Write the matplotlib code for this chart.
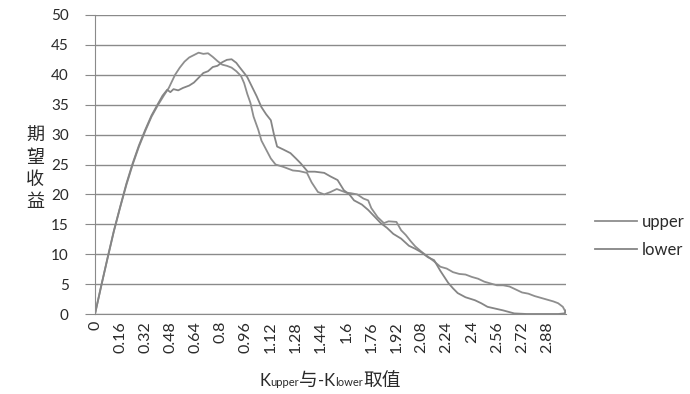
import numpy as np
import matplotlib
matplotlib.use("Agg")
import matplotlib.pyplot as plt
from matplotlib.offsetbox import TextArea, HPacker, AnchoredOffsetbox

plt.rcParams['font.family'] = ['Lato', 'Noto Sans CJK SC', 'DejaVu Sans']

# data
upper_x = [0, 0.04, 0.08, 0.12, 0.16, 0.20, 0.24, 0.28, 0.32, 0.36, 0.40, 0.44, 0.47,
           0.51, 0.54, 0.57, 0.60, 0.63, 0.66, 0.69, 0.72, 0.75, 0.78, 0.81, 0.84, 0.87,
           0.90, 0.93, 0.95, 0.97, 0.99, 1.01, 1.04, 1.06, 1.09, 1.12, 1.15, 1.20, 1.26,
           1.30, 1.35, 1.38, 1.42, 1.46, 1.50, 1.54, 1.57, 1.60, 1.63, 1.67, 1.71, 1.74,
           1.76, 1.80, 1.84, 1.87, 1.92, 1.95, 1.98, 2.01, 2.04, 2.08, 2.12, 2.16, 2.20,
           2.24, 2.28, 2.32, 2.36, 2.40, 2.44, 2.48, 2.52, 2.56, 2.60, 2.64, 2.68, 2.72,
           2.76, 2.80, 2.84, 2.88, 2.92, 2.95, 2.98, 3.00]
upper_y = [0, 4.8, 9.3, 13.8, 17.8, 21.6, 25.0, 28.0, 30.6, 33.0, 34.9, 36.6, 37.8,
           40.0, 41.2, 42.2, 42.9, 43.3, 43.7, 43.5, 43.6, 43.0, 42.3, 41.7, 41.5, 41.2,
           40.6, 39.8, 38.6, 36.8, 35.3, 33.0, 30.8, 29.0, 27.5, 26.0, 25.0, 24.6, 24.0,
           23.9, 23.6, 22.0, 20.4, 20.0, 20.4, 20.9, 20.6, 20.3, 20.2, 20.0, 19.3, 19.0,
           17.7, 16.2, 15.2, 15.5, 15.4, 14.0, 13.2, 12.2, 11.3, 10.4, 9.6, 8.8, 7.9,
           7.6, 7.0, 6.7, 6.6, 6.2, 5.9, 5.4, 5.1, 4.8, 4.8, 4.6, 4.1, 3.6,
           3.4, 3.0, 2.7, 2.4, 2.1, 1.8, 1.2, 0.2]

lower_x = [0, 0.04, 0.08, 0.12, 0.16, 0.20, 0.24, 0.28, 0.32, 0.36, 0.40, 0.43, 0.46,
           0.48, 0.50, 0.53, 0.56, 0.60, 0.63, 0.66, 0.69, 0.72, 0.75, 0.78, 0.81, 0.84,
           0.87, 0.90, 0.92, 0.95, 0.97, 1.00, 1.03, 1.06, 1.09, 1.12, 1.14, 1.16, 1.20,
           1.245, 1.28, 1.31, 1.355, 1.40, 1.46, 1.50, 1.545, 1.585, 1.62, 1.65, 1.70,
           1.74, 1.78, 1.82, 1.86, 1.90, 1.95, 2.00, 2.04, 2.08, 2.12, 2.16, 2.20, 2.25,
           2.28, 2.31, 2.36, 2.42, 2.46, 2.50, 2.55, 2.60, 2.67, 2.75, 2.85, 2.95, 2.99, 3.00]
lower_y = [0, 4.7, 9.4, 13.9, 17.9, 21.8, 25.2, 28.2, 30.8, 33.2, 35.1, 36.5, 37.5,
           37.1, 37.6, 37.4, 37.8, 38.2, 38.7, 39.5, 40.3, 40.6, 41.3, 41.5, 42.1, 42.5,
           42.6, 42.0, 41.3, 40.3, 39.6, 38.0, 36.4, 34.6, 33.4, 32.4, 30.0, 28.0, 27.5,
           26.9, 26.0, 25.2, 23.8, 23.8, 23.6, 23.0, 22.4, 20.7, 20.0, 19.0, 18.3,
           17.4, 16.3, 15.2, 14.4, 13.4, 12.6, 11.4, 10.9, 10.3, 9.5, 9.0, 7.2, 5.2,
           4.3, 3.5, 2.8, 2.3, 1.8, 1.2, 0.9, 0.6, 0.1, 0.0, 0.0, 0.0, 0.1, 0.6]

xtick_vals = [0, 0.16, 0.32, 0.48, 0.64, 0.8, 0.96, 1.12, 1.28, 1.44, 1.6, 1.76,
              1.92, 2.08, 2.24, 2.4, 2.56, 2.72, 2.88]
xtick_labels = ['0', '0.16', '0.32', '0.48', '0.64', '0.8', '0.96', '1.12', '1.28',
                '1.44', '1.6', '1.76', '1.92', '2.08', '2.24', '2.4', '2.56', '2.72', '2.88']

gray = '#8a8a8a'
txt = '#2a2a2a'

fig = plt.figure(figsize=(6.9, 3.94), dpi=100)
ax = fig.add_axes([95/690, 1-314/394, (566-95)/690, (314-15)/394])

l1, = ax.plot(upper_x, upper_y, color='#8e8e8e', lw=1.3, label='upper')
l2, = ax.plot(lower_x, lower_y, color='#858585', lw=1.3, label='lower')

ax.set_xlim(0, 3.0)
ax.set_ylim(0, 50)
ax.set_yticks(np.arange(0, 51, 5))
ax.yaxis.grid(True, color=gray, lw=1.0)
ax.set_axisbelow(True)
for s in ['top', 'right']:
    ax.spines[s].set_visible(False)
ax.spines['left'].set_color(gray)
ax.spines['bottom'].set_color(gray)
ax.tick_params(axis='y', length=7, color=gray, labelsize=11, labelcolor=txt, pad=12)
ax.set_xticks(xtick_vals)
ax.set_xticklabels(xtick_labels, rotation=90)
ax.tick_params(axis='x', length=0, labelsize=11.5, labelcolor=txt, pad=5)

# y label, stacked characters
fig.text(35/690, 1-169/394, '期\n望\n收\n益', fontsize=13, color=txt,
         ha='center', va='center', linespacing=1.27,
         family=['Noto Sans CJK SC', 'DejaVu Sans'])

# x label with small "upper"/"lower"
cjk = ['Noto Sans CJK SC', 'DejaVu Sans']
parts = [TextArea('K', textprops=dict(fontsize=12, color=txt)),
         TextArea('upper', textprops=dict(fontsize=8, color=txt)),
         TextArea('与', textprops=dict(fontsize=13.5, color=txt, family=cjk)),
         TextArea('-K', textprops=dict(fontsize=12, color=txt)),
         TextArea('lower', textprops=dict(fontsize=8, color=txt)),
         TextArea('取值', textprops=dict(fontsize=13.5, color=txt, family=cjk))]
box = HPacker(children=parts, align='baseline', pad=0, sep=0)
anchored = AnchoredOffsetbox(loc='center', child=box, frameon=False, pad=0, borderpad=0,
                             bbox_to_anchor=(330/690, 1-380/394),
                             bbox_transform=fig.transFigure)
fig.add_artist(anchored)

fig.legend(handles=[l1, l2], loc='center left', bbox_to_anchor=(595/690, 1-236/394),
           frameon=False, fontsize=12, handlelength=2.5, handletextpad=0.3,
           labelspacing=0.75, borderpad=0, borderaxespad=0, labelcolor=txt)

fig.savefig('out.png', dpi=100)
